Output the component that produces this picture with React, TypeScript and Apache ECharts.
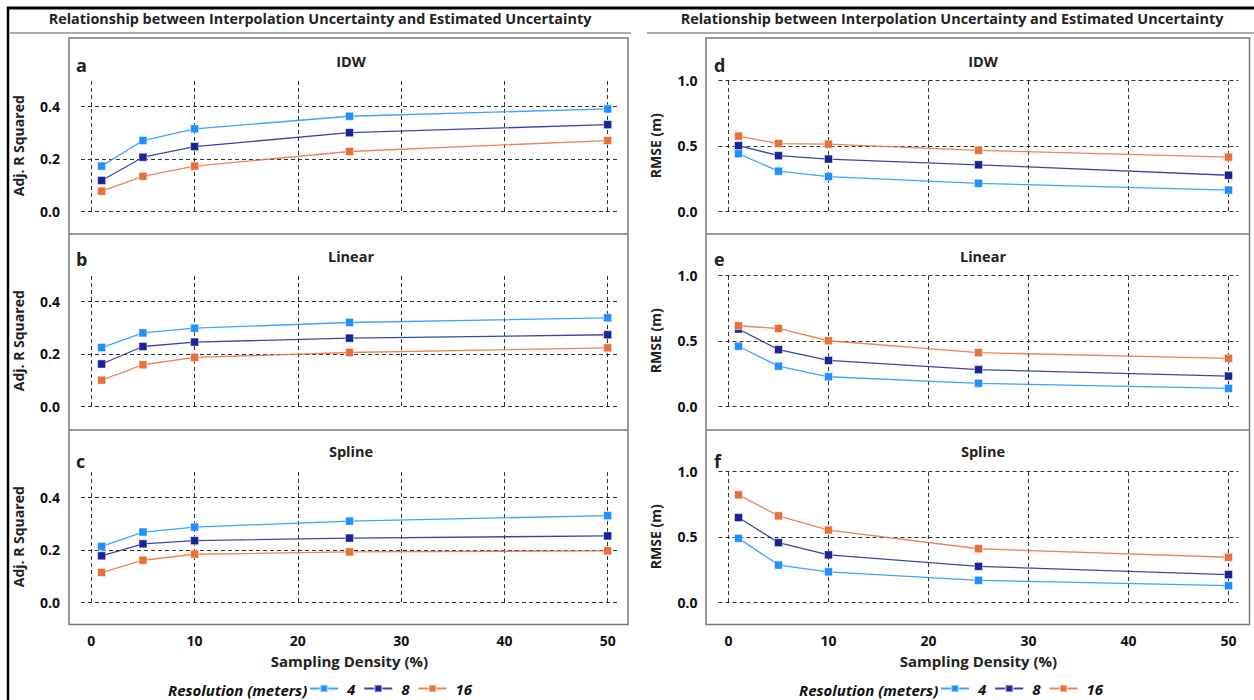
import React, { useEffect, useRef } from 'react';
import * as echarts from 'echarts';

// ---------- data ----------
const densities = [1, 5, 10, 25, 50];
const resolutions = ['4', '8', '16'];
const colors = ['#1e90ff', '#1a2496', '#e8703a'];
const methods = ['IDW', 'Linear', 'Spline'];
const letters = ['a', 'b', 'c', 'd', 'e', 'f'];
const xTicks = [0, 10, 20, 30, 40, 50];
const r2Grid = [0, 0.2, 0.4];
const rmseGrid = [0, 0.5, 1.0];

// Adjusted R squared
const idwR2_4 = [0.172, 0.270, 0.315, 0.363, 0.391];
const idwR2_8 = [0.117, 0.206, 0.247, 0.300, 0.331];
const idwR2_16 = [0.076, 0.133, 0.172, 0.228, 0.270];
const linR2_4 = [0.224, 0.280, 0.298, 0.320, 0.338];
const linR2_8 = [0.161, 0.228, 0.245, 0.260, 0.273];
const linR2_16 = [0.099, 0.158, 0.186, 0.205, 0.223];
const splR2_4 = [0.213, 0.268, 0.287, 0.310, 0.331];
const splR2_8 = [0.177, 0.223, 0.235, 0.245, 0.253];
const splR2_16 = [0.113, 0.160, 0.183, 0.192, 0.196];

// RMSE (m)
const idwRmse_4 = [0.439, 0.305, 0.264, 0.212, 0.160];
const idwRmse_8 = [0.501, 0.424, 0.398, 0.354, 0.274];
const idwRmse_16 = [0.574, 0.517, 0.512, 0.465, 0.413];
const linRmse_4 = [0.458, 0.305, 0.224, 0.174, 0.135];
const linRmse_8 = [0.590, 0.432, 0.349, 0.279, 0.229];
const linRmse_16 = [0.615, 0.594, 0.500, 0.409, 0.365];
const splRmse_4 = [0.488, 0.283, 0.231, 0.166, 0.125];
const splRmse_8 = [0.647, 0.455, 0.361, 0.273, 0.210];
const splRmse_16 = [0.821, 0.660, 0.551, 0.408, 0.343];

const panels = [
  [idwR2_4, idwR2_8, idwR2_16],
  [linR2_4, linR2_8, linR2_16],
  [splR2_4, splR2_8, splR2_16],
  [idwRmse_4, idwRmse_8, idwRmse_16],
  [linRmse_4, linRmse_8, linRmse_16],
  [splRmse_4, splRmse_8, splRmse_16],
];

const mainTitle = 'Relationship between Interpolation Uncertainty and Estimated Uncertainty';
const FONT = '"Open Sans", "Noto Sans", sans-serif';

// ---------- layout ----------
const gridLeft = [81, 718.5];
const gridWidth = [537, 520];
const gridTops = [80.5, 275.5, 471.5];
const gridH = 130.5;
const boxX = [69, 706];
const boxW = [559, 543.5];
const titleCx = [320, 952];
const subCx = [351, 983];
const subY = [61, 256, 451];
const letterY = [65, 259, 461];
const letterX = [76, 714];
const legendTextX = [168, 799];
const legendLeft = [309, 940];

function buildOption() {
  const grids: any[] = [];
  const xAxes: any[] = [];
  const yAxes: any[] = [];
  const series: any[] = [];
  const graphics: any[] = [];

  for (let i = 0; i < 6; i++) {
    const side = i < 3 ? 0 : 1;
    const row = i % 3;
    const isR2 = side === 0;
    const bottom = row === 2;
    grids.push({ left: gridLeft[side], width: gridWidth[side], top: gridTops[row], height: gridH, containLabel: false });
    xAxes.push({
      type: 'value', gridIndex: i, min: -1, max: 51, interval: 1,
      axisLine: { show: false }, axisTick: { show: false }, splitLine: { show: false },
      axisLabel: {
        show: bottom, interval: 0, margin: 31,
        color: '#111', fontFamily: FONT, fontWeight: 'bold', fontSize: 14,
        formatter: (v: number) => (v % 10 === 0 && v >= 0 && v <= 50 ? String(v) : ''),
      },
      name: bottom ? 'Sampling Density (%)' : '',
      nameLocation: 'middle', nameGap: 51,
      nameTextStyle: { color: '#222', fontFamily: FONT, fontWeight: 'bold', fontSize: 15 },
    });
    yAxes.push({
      type: 'value', gridIndex: i, min: 0, max: isR2 ? 0.5 : 1.0, interval: isR2 ? 0.1 : 0.5,
      axisLine: { show: false }, axisTick: { show: false }, splitLine: { show: false },
      axisLabel: {
        interval: 0, margin: 21, color: '#111', fontFamily: FONT, fontWeight: 'bold', fontSize: 14,
        formatter: (v: number) => {
          if (!isR2) return v.toFixed(1);
          const k = Math.round(v * 10);
          return k % 2 === 0 && k <= 4 ? (k / 10).toFixed(1) : '';
        },
      },
      name: isR2 ? 'Adj. R Squared' : 'RMSE (m)',
      nameLocation: 'middle', nameGap: 56,
      nameTextStyle: { color: '#222', fontFamily: FONT, fontWeight: 'bold', fontSize: 14 },
    });
    const gl = isR2 ? r2Grid : rmseGrid;
    panels[i].forEach((arr, j) => {
      const s: any = {
        type: 'line', name: resolutions[j], xAxisIndex: i, yAxisIndex: i,
        data: densities.map((d, k) => [d, arr[k]]),
        symbol: 'rect', symbolSize: 8,
        lineStyle: { width: 1.3, color: colors[j], opacity: 0.85 },
        itemStyle: { color: colors[j], borderColor: 'rgba(255,255,255,0.45)', borderWidth: 1 },
        z: 3 + j,
      };
      if (j === 0) {
        s.markLine = {
          silent: true, symbol: ['none', 'none'], z: 1,
          label: { show: false },
          lineStyle: { color: '#333', width: 1, type: [4, 3] },
          emphasis: { disabled: true },
          data: [...xTicks.map((x) => ({ xAxis: x })), ...gl.map((y) => ({ yAxis: y }))],
        };
      }
      series.push(s);
    });

    graphics.push({
      type: 'text', x: letterX[side], y: letterY[row],
      style: { text: letters[i], font: `bold 18px ${FONT}`, fill: '#222', textVerticalAlign: 'middle' },
    });
    graphics.push({
      type: 'text', x: subCx[side], y: subY[row],
      style: { text: methods[row], font: `bold 14.5px ${FONT}`, fill: '#222', textAlign: 'center', textVerticalAlign: 'middle' },
    });
  }

  for (let side = 0; side < 2; side++) {
    graphics.push({
      type: 'text', x: titleCx[side], y: 18,
      style: { text: mainTitle, font: `bold 14.4px ${FONT}`, fill: '#222', textAlign: 'center', textVerticalAlign: 'middle' },
    });
    graphics.push({
      type: 'rect', shape: { x: boxX[side], y: 38, width: boxW[side], height: 586.5 },
      style: { fill: 'none', stroke: '#777', lineWidth: 1.5 }, z: 0,
    });
    [234, 430].forEach((yy) => {
      graphics.push({
        type: 'line', shape: { x1: boxX[side], y1: yy, x2: boxX[side] + boxW[side], y2: yy },
        style: { stroke: '#777', lineWidth: 1.5 },
      });
    });
    graphics.push({
      type: 'text', x: legendTextX[side], y: 690,
      style: { text: 'Resolution (meters)', font: `italic bold 15px ${FONT}`, fill: '#111', textVerticalAlign: 'middle' },
    });
  }
  graphics.push({ type: 'line', shape: { x1: 7, y1: 8, x2: 1254, y2: 8 }, style: { stroke: '#000', lineWidth: 3 } });
  graphics.push({ type: 'line', shape: { x1: 8, y1: 7, x2: 8, y2: 700 }, style: { stroke: '#000', lineWidth: 2.5 } });
  graphics.push({ type: 'line', shape: { x1: 9, y1: 33, x2: 631, y2: 33 }, style: { stroke: '#aaa', lineWidth: 2 } });
  graphics.push({ type: 'line', shape: { x1: 647, y1: 33, x2: 1254, y2: 33 }, style: { stroke: '#aaa', lineWidth: 2 } });

  const legends = [0, 1].map((side) => ({
    left: legendLeft[side], top: 681, orient: 'horizontal', padding: 0,
    data: resolutions, itemWidth: 28, itemHeight: 9, itemGap: 8,
    selectedMode: false,
    textStyle: { color: '#111', fontFamily: FONT, fontStyle: 'italic', fontWeight: 'bold', fontSize: 15, padding: [0, 0, 0, 4] },
  }));

  return {
    animation: false,
    backgroundColor: '#ffffff',
    grid: grids,
    xAxis: xAxes,
    yAxis: yAxes,
    series,
    legend: legends,
    graphic: { elements: graphics },
  };
}

export default function App() {
  const ref = useRef<HTMLDivElement>(null);
  useEffect(() => {
    document.body.style.margin = '0';
    if (!ref.current) return;
    const chart = echarts.init(ref.current, undefined, { renderer: 'svg' });
    chart.setOption(buildOption() as any);
    return () => chart.dispose();
  }, []);
  return <div ref={ref} style={{ width: 1254, height: 700 }} />;
}
